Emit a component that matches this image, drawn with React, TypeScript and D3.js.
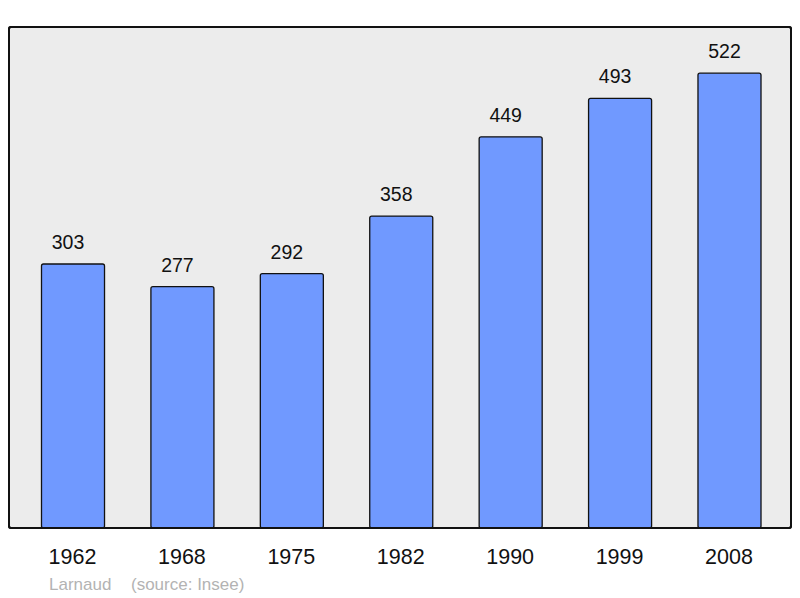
import React from "react";
import * as d3 from "d3";

const years = ["1962", "1968", "1975", "1982", "1990", "1999", "2008"];
const population = [303, 277, 292, 358, 449, 493, 522];
const credit = "Larnaud";
const source = "(source: Insee)";

const W = 800;
const H = 598;
const panel = { x: 9, y: 27, w: 782, h: 501 };

export default function App() {
  const x = d3
    .scaleBand<string>()
    .domain(years)
    .range([18.3, 784.2])
    .paddingInner(0.424)
    .paddingOuter(0.212);
  const y = d3.scaleLinear().domain([0, 575]).range([panel.y + panel.h, panel.y]);
  const font = "'Liberation Sans', Arial, sans-serif";

  return (
    <svg
      width={W}
      height={H}
      style={{ position: "absolute", left: 0, top: 0 }}
      fontFamily={font}
    >
      <rect x={0} y={0} width={W} height={H} fill="#ffffff" />
      <rect
        x={panel.x}
        y={panel.y}
        width={panel.w}
        height={panel.h}
        rx={2}
        fill="#ececec"
        stroke="#111"
        strokeWidth={2}
      />
      {years.map((yr, i) => {
        const v = population[i];
        const bx = x(yr)!;
        const by = y(v);
        return (
          <g key={yr}>
            <rect
              x={bx}
              y={by}
              width={x.bandwidth()}
              height={y(0) - by}
              rx={2}
              fill="#7099ff"
              stroke="#111"
              strokeWidth={1.3}
            />
            <text
              x={bx + x.bandwidth() / 2 - 5}
              y={by - 15}
              textAnchor="middle"
              fontSize={19.5}
              fill="#111"
            >
              {v}
            </text>
            <text
              x={bx + x.bandwidth() / 2 - 0.5}
              y={564}
              textAnchor="middle"
              fontSize={21.5}
              fill="#111"
            >
              {yr}
            </text>
          </g>
        );
      })}
      <rect
        x={panel.x}
        y={panel.y}
        width={panel.w}
        height={panel.h}
        rx={2}
        fill="none"
        stroke="#111"
        strokeWidth={2}
      />
      <text x={49} y={590} fontSize={17} fill="#b3b3b3">
        {credit}
      </text>
      <text x={131} y={590} fontSize={17} fill="#b3b3b3">
        {source}
      </text>
    </svg>
  );
}
